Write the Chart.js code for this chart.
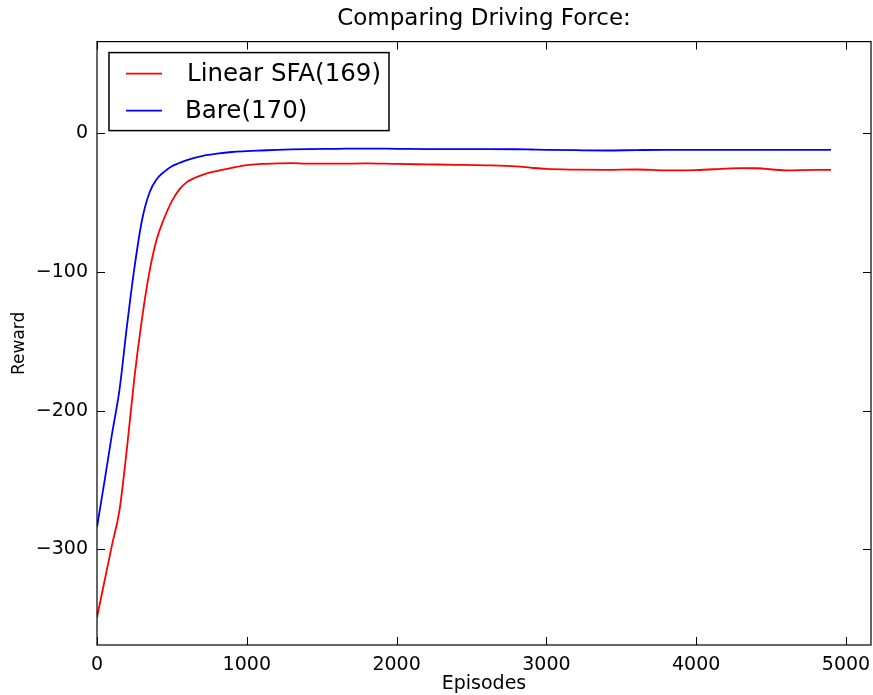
<!DOCTYPE html>
<html lang="en">
<head>
    <meta charset="UTF-8">
    <title>Comparing Driving Force:</title>
    <script src="https://cdn.jsdelivr.net/npm/chart.js"></script>
    <style>
        body {
            margin: 0;
            background-color: #ffffff;
        }
        #wrap {
            width: 873px;
            height: 695px;
        }
    </style>
</head>
<body>
    <div id="wrap"><canvas id="chart" width="873" height="695"></canvas></div>

    <script>
        // values
        const episodes = [0, 50, 100, 150, 200, 250, 300, 350, 400, 450, 500, 550, 600, 650, 700, 800, 900, 1000, 1100, 1200, 1300, 1400, 1600, 1800, 2000, 2200, 2400, 2600, 2800, 2900, 3000, 3200, 3400, 3600, 3800, 4000, 4200, 4300, 4400, 4600, 4800, 4900];
        const linearSfa = [-349, -323, -297, -272, -227, -176, -134, -100, -76, -61, -49, -40.5, -35.3, -32.3, -30.2, -27.3, -25, -23, -22.2, -21.8, -21.6, -22, -22, -21.8, -22.2, -22.5, -22.8, -23.2, -24, -25, -25.8, -26.3, -26.5, -26.2, -26.8, -26.6, -25.6, -25.2, -25.3, -26.8, -26.5, -26.5];
        const bare = [-284, -251, -217, -185, -139, -97, -63, -43, -33, -27.7, -23.8, -21.5, -19.4, -17.8, -16.5, -14.8, -13.6, -13, -12.5, -12, -11.7, -11.5, -11.3, -11.1, -11.3, -11.5, -11.5, -11.5, -11.6, -11.8, -12, -12.3, -12.5, -12.2, -12, -12, -12, -12, -12, -12, -12, -12];
        const xTicks = [0, 1000, 2000, 3000, 4000, 5000];
        const yTicks = [-300, -200, -100, 0];

        const toPoints = (ys) => episodes.map((x, i) => ({ x: x, y: ys[i] }));

        // frame, inward ticks and the legend box (matplotlib classic look)
        const framePlugin = {
            id: 'frame',
            afterDraw(chart) {
                const ctx = chart.ctx;
                const a = chart.chartArea;
                const xs = chart.scales.x;
                const ys = chart.scales.y;
                ctx.save();
                ctx.strokeStyle = '#000';
                ctx.lineWidth = 1.2;
                ctx.strokeRect(a.left, a.top, a.right - a.left, a.bottom - a.top);

                ctx.lineWidth = 1;
                ctx.beginPath();
                xTicks.forEach(v => {
                    const px = Math.round(xs.getPixelForValue(v)) + 0.5;
                    ctx.moveTo(px, a.bottom); ctx.lineTo(px, a.bottom - 8);
                    ctx.moveTo(px, a.top); ctx.lineTo(px, a.top + 8);
                });
                yTicks.forEach(v => {
                    const py = Math.round(ys.getPixelForValue(v)) + 0.5;
                    ctx.moveTo(a.left, py); ctx.lineTo(a.left + 8, py);
                    ctx.moveTo(a.right, py); ctx.lineTo(a.right - 8, py);
                });
                ctx.stroke();

                // legend
                const bx = a.left + 12, by = a.top + 11, bw = 280, bh = 78;
                ctx.fillStyle = '#fff';
                ctx.fillRect(bx, by, bw, bh);
                ctx.lineWidth = 1.5;
                ctx.strokeRect(bx, by, bw, bh);
                ctx.font = '24.5px "DejaVu Sans"';
                ctx.textBaseline = 'middle';
                chart.data.datasets.forEach((ds, i) => {
                    const ly = by + 21 + i * 37;
                    ctx.strokeStyle = ds.borderColor;
                    ctx.lineWidth = 1.6;
                    ctx.beginPath();
                    ctx.moveTo(bx + 17, ly);
                    ctx.lineTo(bx + 53, ly);
                    ctx.stroke();
                    ctx.fillStyle = '#000';
                    ctx.fillText(ds.label, bx + 76 + (i === 0 ? 2 : 0), ly + 1);
                });
                ctx.restore();
            }
        };

        const ctx = document.getElementById('chart').getContext('2d');
        new Chart(ctx, {
            type: 'line',
            data: {
                datasets: [{
                    label: 'Linear SFA(169)',
                    data: toPoints(linearSfa),
                    borderColor: '#ff0000',
                    borderWidth: 1.8,
                    pointRadius: 0,
                    cubicInterpolationMode: 'monotone'
                }, {
                    label: 'Bare(170)',
                    data: toPoints(bare),
                    borderColor: '#0000ff',
                    borderWidth: 1.8,
                    pointRadius: 0,
                    cubicInterpolationMode: 'monotone'
                }]
            },
            options: {
                responsive: false,
                animation: false,
                layout: { padding: { top: 0, right: 2, left: 0, bottom: 0 } },
                plugins: {
                    legend: { display: false },
                    tooltip: { enabled: false },
                    title: {
                        display: true,
                        text: 'Comparing Driving Force:',
                        fullSize: false,
                        color: '#000',
                        font: { family: 'DejaVu Sans', size: 23, weight: 'normal', lineHeight: 1.2 },
                        padding: { top: 5, bottom: 9 }
                    }
                },
                scales: {
                    x: {
                        type: 'linear',
                        min: 0,
                        max: 5167,
                        afterFit(scale) {
                            scale.height = 50;
                            scale.paddingLeft = 0;
                            scale.paddingRight = 0;
                        },
                        afterBuildTicks(scale) { scale.ticks = xTicks.map(v => ({ value: v })); },
                        grid: { display: false, drawTicks: false },
                        border: { display: false },
                        ticks: {
                            color: '#000',
                            padding: 9,
                            maxRotation: 0,
                            font: { family: 'DejaVu Sans', size: 19 },
                            callback: (v) => String(v)
                        },
                        title: {
                            display: true,
                            text: 'Episodes',
                            color: '#000',
                            font: { family: 'DejaVu Sans', size: 19 },
                            padding: { top: 0, bottom: 0 }
                        }
                    },
                    y: {
                        type: 'linear',
                        min: -369,
                        max: 66,
                        afterFit(scale) {
                            scale.width = 97;
                            scale.paddingTop = 0;
                            scale.paddingBottom = 0;
                        },
                        afterBuildTicks(scale) { scale.ticks = yTicks.map(v => ({ value: v })); },
                        grid: { display: false, drawTicks: false },
                        border: { display: false },
                        ticks: {
                            color: '#000',
                            padding: 9,
                            font: { family: 'DejaVu Sans', size: 19 },
                            callback: (v) => String(v).replace('-', '\u2212')
                        },
                        title: {
                            display: true,
                            text: 'Reward',
                            color: '#000',
                            font: { family: 'DejaVu Sans', size: 17 },
                            padding: { top: 9, bottom: 0 }
                        }
                    }
                }
            },
            plugins: [framePlugin]
        });
    </script>
</body>
</html>
